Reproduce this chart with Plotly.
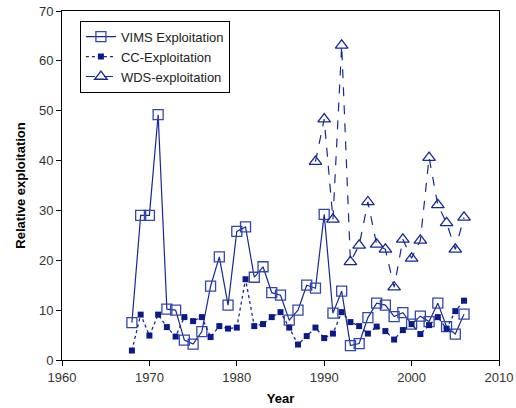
import plotly.graph_objects as go

vims_years = list(range(1968, 2007))
vims_vals = [7.5, 29.0, 29.0, 49.2, 10.2, 10.0, 4.0, 3.2, 5.7, 14.8,
             20.7, 11.0, 25.8, 26.7, 16.6, 18.7, 13.5, 13.0, 8.0, 10.0,
             15.0, 14.4, 29.2, 9.4, 13.8, 2.9, 3.3, 8.5, 11.4, 11.0,
             8.7, 9.5, 7.2, 8.8, 7.7, 11.4, 6.7, 5.2, 9.2]

cc_years = list(range(1968, 2007))
cc_vals = [1.9, 9.1, 4.9, 9.1, 6.6, 4.7, 8.6, 7.8, 8.6, 4.6,
           6.8, 6.3, 6.5, 16.2, 6.8, 7.2, 8.6, 9.6, 6.5, 3.1,
           4.8, 6.5, 4.4, 5.3, 9.6, 7.6, 6.8, 5.3, 6.7, 5.8,
           4.1, 6.0, 7.2, 5.2, 7.0, 8.6, 6.3, 9.8, 11.9]

wds_years = list(range(1989, 2007))
wds_vals = [39.8, 48.3, 28.2, 63.1, 19.7, 23.0, 31.7, 23.2, 22.2, 14.6,
            24.2, 20.4, 24.0, 40.6, 31.1, 27.5, 22.2, 28.6]

navy = "#16279a"

fig = go.Figure()
fig.add_trace(go.Scatter(
    x=vims_years, y=vims_vals, name="VIMS Exploitation",
    mode="lines+markers",
    line=dict(color=navy, width=1.2, dash="solid"),
    marker=dict(symbol="square-open", size=10, color="#3346ac", line=dict(width=1.3)),
))
fig.add_trace(go.Scatter(
    x=cc_years, y=cc_vals, name="CC-Exploitation",
    mode="lines+markers",
    line=dict(color=navy, width=1.3, dash="dot"),
    marker=dict(symbol="square", size=6, color="#0a1a8c"),
))
fig.add_trace(go.Scatter(
    x=wds_years, y=wds_vals, name="WDS-exploitation",
    mode="lines+markers",
    line=dict(color=navy, width=1.2, dash="dash"),
    marker=dict(symbol="triangle-up-open", size=11, color=navy, line=dict(width=1.3)),
))

axis_font = dict(family="Liberation Sans, Arial", size=13, color="#333333")
title_font = dict(family="Liberation Sans, Arial", size=13, color="black")
fig.update_layout(
    width=516, height=408,
    margin=dict(l=62, r=17, t=11, b=48),
    paper_bgcolor="white", plot_bgcolor="white",
    font=dict(family="Liberation Sans, Arial", size=13, color="#222222"),
    showlegend=True,
    legend=dict(
        x=0.041, y=0.972, xanchor="left", yanchor="top",
        bgcolor="white", bordercolor="black", borderwidth=1,
        font=dict(family="Liberation Sans, Arial", size=13, color="#222222"),
        tracegroupgap=0, itemwidth=30,
    ),
    xaxis=dict(
        range=[1960, 2010], tickvals=[1960, 1970, 1980, 1990, 2000, 2010],
        showgrid=False, zeroline=False, automargin=False,
        showline=True, linecolor="black", linewidth=1, mirror=True,
        ticks="outside", ticklen=5, tickcolor="black",
        tickfont=axis_font,
        title=dict(text="<b>Year</b>", font=title_font, standoff=10),
    ),
    yaxis=dict(
        range=[0, 70], tickvals=[0, 10, 20, 30, 40, 50, 60, 70],
        showgrid=False, zeroline=False, automargin=False,
        showline=True, linecolor="black", linewidth=1, mirror=True,
        ticks="outside", ticklen=5, tickcolor="black",
        tickfont=axis_font,
        title=dict(text="<b>Relative exploitation</b>", font=title_font, standoff=10),
    ),
)

# drop the default 8px body margin so the figure fills the window
fig.write_html("out.html", config={"displayModeBar": False},
               post_script="document.body.style.margin = '0';")
